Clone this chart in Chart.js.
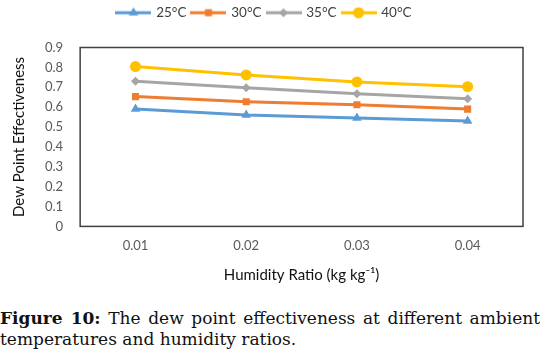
<!DOCTYPE html>
<html lang="en">
<head>
  <meta charset="UTF-8">
  <title>Dew Point Effectiveness</title>
  <script src="https://cdn.jsdelivr.net/npm/chart.js"></script>
  <style>
    body { margin: 0; background: #fff; }
    .wrap { position: relative; width: 540px; height: 354px; }
    .chartBox { position: absolute; left: 0; top: 0; width: 540px; height: 292px; }
    .caption { position: absolute; left: 0; top: 308px; width: 540px;
      font-family: "DejaVu Serif", serif; font-size: 17px; line-height: 21px; color: #111; }
    .caption .l1 { text-align: justify; text-align-last: justify; }
  </style>
</head>
<body>
  <div class="wrap">
    <div class="chartBox"><canvas id="dewChart"></canvas></div>
    <div class="caption">
      <div class="l1"><b>Figure 10:</b> The dew point effectiveness at different ambient</div>
      <div>temperatures and humidity ratios.</div>
    </div>
  </div>

<script>
  const humidityRatio = ['0.01', '0.02', '0.03', '0.04']
  const seriesNames = ['25°C', '30°C', '35°C', '40°C']
  const eff25 = [0.59, 0.56, 0.545, 0.53]
  const eff30 = [0.653, 0.627, 0.612, 0.59]
  const eff35 = [0.73, 0.698, 0.667, 0.642]
  const eff40 = [0.804, 0.762, 0.727, 0.703]
  const yTicks = [0, 0.1, 0.2, 0.3, 0.4, 0.5, 0.6, 0.7, 0.8, 0.9]

  const colors = ['#5B9BD5', '#ED7D31', '#A5A5A5', '#FFC000']
  const markers = ['triangle', 'rect', 'rectRot', 'circle']
  const radii = [5.5, 5, 4.5, 5.5]
  const allData = [eff25, eff30, eff35, eff40]

  // legend swatch: line with marker in the middle
  function swatch(color, style, r) {
    const c = document.createElement('canvas')
    c.width = 36; c.height = 14
    const g = c.getContext('2d')
    g.strokeStyle = color; g.lineWidth = 3
    g.beginPath(); g.moveTo(0, 7); g.lineTo(36, 7); g.stroke()
    g.fillStyle = color
    Chart.helpers.drawPoint(g, { pointStyle: style, radius: r, borderWidth: 0, rotation: 0 }, 18, 7)
    return c
  }

  const frame = {
    id: 'frame',
    afterDraw(chart) {
      const a = chart.chartArea, ctx = chart.ctx
      ctx.save()
      ctx.strokeStyle = '#404040'; ctx.lineWidth = 1.5
      ctx.strokeRect(a.left, a.top, a.right - a.left, a.bottom - a.top)
      ctx.restore()
    }
  }

  // extra room under the legend
  const legendGap = {
    id: 'legendGap',
    beforeInit(chart) {
      const fit = chart.legend.fit
      chart.legend.fit = function () { fit.bind(chart.legend)(); this.height += 18 }
    }
  }

  const tickFont = { family: 'Lato, "Open Sans", sans-serif', size: 13 }

  new Chart(document.getElementById('dewChart'), {
    type: 'line',
    data: {
      labels: humidityRatio,
      datasets: allData.map((d, i) => ({
        label: seriesNames[i],
        data: d,
        borderColor: colors[i],
        backgroundColor: colors[i],
        borderWidth: 3,
        pointStyle: markers[i],
        pointRadius: radii[i],
        pointHoverRadius: radii[i],
        pointBorderWidth: 0,
        tension: 0
      }))
    },
    options: {
      responsive: true,
      maintainAspectRatio: false,
      animation: false,
      layout: { padding: { left: 6, right: 17, top: 0, bottom: 4 } },
      plugins: {
        tooltip: { enabled: false },
        legend: {
          position: 'top',
          labels: {
            usePointStyle: true,
            pointStyleWidth: 32,
            boxHeight: 14,
            padding: 6,
            color: '#404040',
            font: { family: 'Lato, "Open Sans", sans-serif', size: 13.5 },
            generateLabels(chart) {
              return chart.data.datasets.map((ds, i) => ({
                text: ds.label,
                pointStyle: swatch(colors[i], markers[i], radii[i]),
                fontColor: '#404040',
                lineWidth: 0,
                datasetIndex: i
              }))
            }
          }
        }
      },
      scales: {
        x: {
          offset: true,
          grid: { display: false },
          border: { display: false },
          ticks: { color: '#595959', font: tickFont, padding: 4 },
          title: { display: true, text: 'Humidity Ratio (kg kg⁻¹)', color: '#111',
            font: { family: 'Lato, "Open Sans", sans-serif', size: 15 }, padding: { top: 8 } }
        },
        y: {
          min: 0, max: 0.9,
          afterBuildTicks(axis) { axis.ticks = yTicks.map(v => ({ value: v })) },
          grid: { display: false, drawTicks: false },
          border: { display: false },
          ticks: { color: '#595959', font: tickFont, padding: 17,
            callback: v => String(+v.toFixed(1)) },
          title: { display: true, text: 'Dew Point Effectiveness', color: '#111',
            font: { family: 'Lato, "Open Sans", sans-serif', size: 15 }, padding: { bottom: 0 } }
        }
      }
    },
    plugins: [frame, legendGap]
  })
</script>
</body>
</html>
